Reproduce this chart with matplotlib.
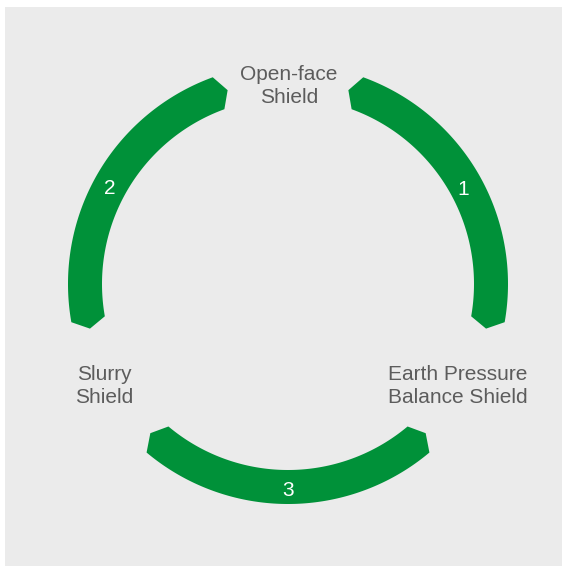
import numpy as np
import matplotlib
matplotlib.use("Agg")
import matplotlib.pyplot as plt
from matplotlib.patches import Polygon, Rectangle

# --- data ---
stage_labels = ["Open-face\nShield", "Earth Pressure\nBalance Shield", "Slurry\nShield"]
step_numbers = ["1", "3", "2"]  # arcs following each stage, clockwise

GREEN = "#009139"
BG = "#ebebeb"
TEXT = "#5c5c5c"

W, H = 562, 567
fig = plt.figure(figsize=(W / 100, H / 100), dpi=100)
ax = fig.add_axes([0, 0, 1, 1])
ax.set_xlim(0, W)
ax.set_ylim(H, 0)
ax.axis("off")

ax.add_patch(Rectangle((5, 7), W - 5, H - 7 - 1, facecolor=BG, edgecolor="none"))

cx, cy = 288, 284
r_out, r_in = 220, 186
r_mid = (r_out + r_in) / 2
half_gap = 20.0
tip_ext = 2.7
font = dict(family=["Liberation Sans", "DejaVu Sans"])
label_xy = [(289, 86), (458, 386), (104, 386)]
number_r = [200, 205, 203]
number_nudge = [-1.0, 0.0, 1.4]  # degrees


def pt(r, ang):
    a = np.deg2rad(ang)
    return cx + r * np.cos(a), cy - r * np.sin(a)


n = len(stage_labels)
for i, label in enumerate(stage_labels):
    gap_center = 90 - i * 360 / n
    lx, ly = label_xy[i]
    ax.text(lx, ly, label, ha="center", va="center", color=TEXT, fontsize=15,
            linespacing=1.3, **font)
    # arc from this gap to the next one (clockwise)
    a0 = gap_center - half_gap
    a1 = gap_center - 360 / n + half_gap
    angs = np.linspace(a0, a1, 120)
    outer = [pt(r_out, a) for a in angs]
    inner = [pt(r_in, a) for a in angs[::-1]]
    poly = outer + [pt(r_mid, a1 - tip_ext)] + inner + [pt(r_mid, a0 + tip_ext)]
    ax.add_patch(Polygon(poly, closed=True, facecolor=GREEN, edgecolor="none"))
    nx, ny = pt(number_r[i], (a0 + a1) / 2 + number_nudge[i])
    ax.text(nx, ny, step_numbers[i], ha="center", va="center_baseline", color="white",
            fontsize=15, **font)

fig.savefig("out.png", dpi=100, facecolor="white")
